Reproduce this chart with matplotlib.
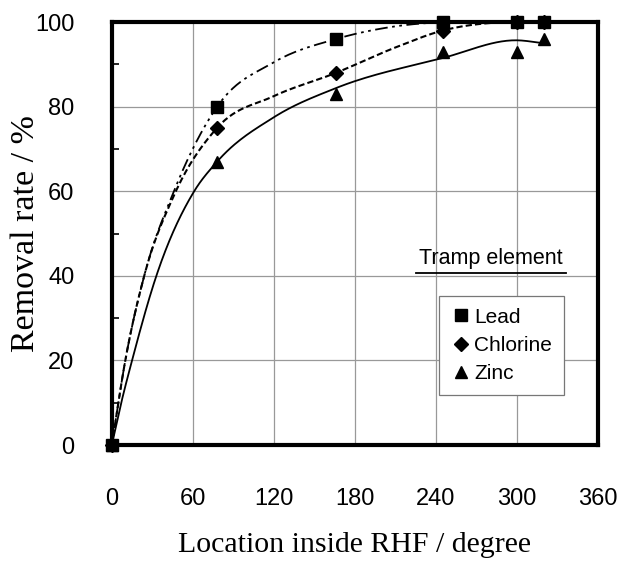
import numpy as np
import matplotlib.pyplot as plt
from matplotlib.lines import Line2D

# measured points (location in degree, removal rate in %)
loc = [0, 78, 166, 245, 300, 320]
lead = [0, 80, 96, 100, 100, 100]
chlorine = [0, 75, 88, 98, 100, 100]
zinc = [0, 67, 83, 93, 93, 96]

# knots
lead_curve_x = [0, 10, 24, 46, 78, 120, 166, 210, 245, 300, 320]
lead_curve_y = [0, 20, 40, 60, 80, 90.5, 96, 99, 100, 100, 100]
chl_curve_x = [0, 10, 24, 46, 78, 120, 166, 210, 245, 290, 320]
chl_curve_y = [0, 20, 40, 59, 75, 82.5, 88, 94, 98, 100, 100]
zinc_curve_x = [0, 7, 15, 33, 61, 78, 120, 166, 245, 300, 320]
zinc_curve_y = [0, 10, 20, 40, 60, 67, 77.5, 84.4, 91.5, 95.7, 95]

xticks = [0, 60, 120, 180, 240, 300, 360]
yticks = [0, 20, 40, 60, 80, 100]


def smooth(xs, ys, n=30):
    # cubic hermite through the knots
    xs = np.asarray(xs, float)
    ys = np.asarray(ys, float)
    m = np.gradient(ys, xs)
    outx, outy = [], []
    for i in range(len(xs) - 1):
        h = xs[i + 1] - xs[i]
        t = np.linspace(0, 1, n)
        h00 = 2 * t**3 - 3 * t**2 + 1
        h10 = t**3 - 2 * t**2 + t
        h01 = -2 * t**3 + 3 * t**2
        h11 = t**3 - t**2
        outx.extend(xs[i] + t * h)
        outy.extend(h00 * ys[i] + h10 * h * m[i] + h01 * ys[i + 1] + h11 * h * m[i + 1])
    return np.array(outx), np.array(outy)


fig = plt.figure(figsize=(6.28, 5.67), dpi=100)
ax = fig.add_axes([0.178, 0.215, 0.774, 0.746])

sans = 'Liberation Sans'
serif = 'Liberation Serif'

x, y = smooth(lead_curve_x, lead_curve_y)
ax.plot(x, y, color='black', lw=1.3, dashes=(7, 2.5, 1.5, 2.5, 1.5, 2.5), clip_on=False)
x, y = smooth(chl_curve_x, chl_curve_y)
ax.plot(x, y, color='black', lw=1.5, dashes=(3, 1.5), clip_on=False)
x, y = smooth(zinc_curve_x, zinc_curve_y)
ax.plot(x, y, color='black', lw=1.3, clip_on=False)

ax.plot(loc, zinc, '^', color='black', ms=9, clip_on=False, zorder=5)
ax.plot(loc, chlorine, 'D', color='black', ms=7, clip_on=False, zorder=5)
ax.plot(loc, lead, 's', color='black', ms=9, clip_on=False, zorder=6)

ax.set_xlim(0, 360)
ax.set_ylim(0, 100)
ax.set_xticks(xticks)
ax.set_yticks(yticks)
ax.set_yticks([10, 30, 50, 70, 90], minor=True)
ax.grid(True, color='#999999', lw=0.9)
ax.set_axisbelow(True)
for s in ax.spines.values():
    s.set_linewidth(3)
ax.tick_params(axis='both', which='major', direction='in', length=0)
ax.tick_params(axis='x', pad=31)
ax.tick_params(axis='y', pad=27)
ax.tick_params(axis='y', which='minor', direction='in', length=5, width=1.2)
for lab in ax.get_xticklabels() + ax.get_yticklabels():
    lab.set_fontfamily(sans)
    lab.set_fontsize(17)

ax.set_xlabel('Location inside RHF / degree', fontfamily=serif, fontsize=21.5)
ax.set_ylabel('Removal rate / %', fontfamily=serif, fontsize=24.5)
ax.xaxis.set_label_coords(0.5, -0.205)
ax.yaxis.set_label_coords(-0.146, 0.5)

# legend with underlined title
ax.text(0.78, 0.44, 'Tramp element', transform=ax.transAxes, ha='center', va='center',
        fontfamily=sans, fontsize=15.5)
ax.add_line(Line2D([0.626, 0.934], [0.407, 0.407], transform=ax.transAxes, color='black', lw=1.3))

handles = [
    Line2D([], [], marker='s', color='black', ls='none', ms=9),
    Line2D([], [], marker='D', color='black', ls='none', ms=7),
    Line2D([], [], marker='^', color='black', ls='none', ms=9),
]
leg = ax.legend(handles, ['Lead', 'Chlorine', 'Zinc'], loc='upper left',
                bbox_to_anchor=(0.673, 0.352), fancybox=False, framealpha=1,
                edgecolor='#777777', handlelength=1.0, handletextpad=0.15,
                borderpad=0.55, borderaxespad=0, labelspacing=0.45,
                prop={'family': sans, 'size': 15})
leg.get_frame().set_linewidth(0.9)

plt.savefig('out.png', dpi=100)
